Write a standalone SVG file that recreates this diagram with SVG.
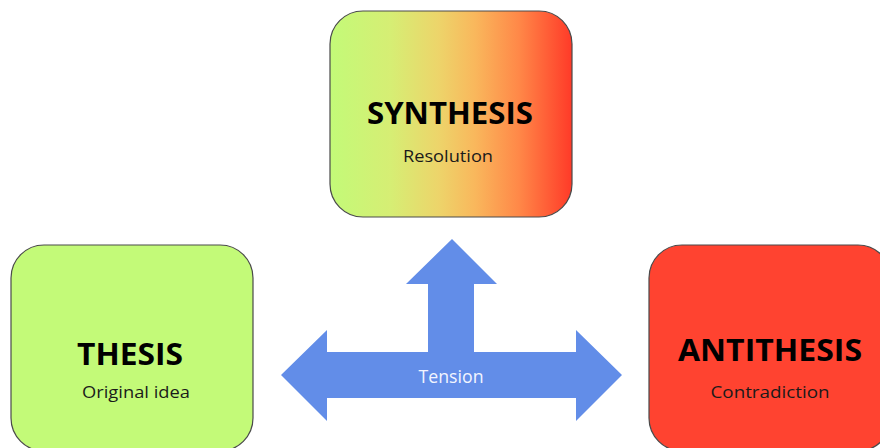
<svg xmlns="http://www.w3.org/2000/svg" width="880" height="448" viewBox="0 0 880 448">
<defs>
<linearGradient id="synGrad" x1="0" y1="0" x2="1" y2="0">
<stop offset="0" stop-color="#C3FA78"/>
<stop offset="0.25" stop-color="#D6EE74"/>
<stop offset="0.45" stop-color="#EDD46A"/>
<stop offset="0.6" stop-color="#F9B75C"/>
<stop offset="0.78" stop-color="#FF8848"/>
<stop offset="1" stop-color="#FF3A28"/>
</linearGradient>
</defs>
<style>
.box{stroke:#4a4a4a;stroke-width:1.2}
.title{font-family:"Open Sans","Noto Sans",sans-serif;font-weight:bold;font-size:31px;fill:#000;text-anchor:middle}
.sub{font-family:"Open Sans","Noto Sans",sans-serif;font-size:15.5px;fill:#1a1a1a;text-anchor:middle}
.lbl{font-family:"Open Sans","Noto Sans",sans-serif;font-size:18.5px;fill:#F2F5FF;text-anchor:middle}
</style>
<rect width="880" height="448" fill="#ffffff"/>
<g id="connectors">
<path d="M281,375 L327,330 L327,352 L428,352 L428,284 L406,284 L452,239 L497,284 L474,284 L474,352 L576,352 L576,330 L622,375 L576,421 L576,398 L327,398 L327,421 Z" fill="#628DE8"/>
<text class="lbl" x="451" y="383" textLength="65" lengthAdjust="spacingAndGlyphs">Tension</text>
</g>
<g id="synthesis">
<rect class="box" x="330" y="11" width="242" height="206" rx="33" ry="33" fill="url(#synGrad)"/>
<text class="title" x="450" y="124" textLength="166" lengthAdjust="spacingAndGlyphs">SYNTHESIS</text>
<text class="sub" x="448" y="162" textLength="90" lengthAdjust="spacingAndGlyphs">Resolution</text>
</g>
<g id="thesis">
<rect class="box" x="11" y="245" width="242" height="206" rx="33" ry="33" fill="#C3FA78"/>
<text class="title" x="130" y="365" textLength="106" lengthAdjust="spacingAndGlyphs">THESIS</text>
<text class="sub" x="136" y="398" textLength="108" lengthAdjust="spacingAndGlyphs">Original idea</text>
</g>
<g id="antithesis">
<rect class="box" x="649" y="245" width="242" height="206" rx="33" ry="33" fill="#FF4330"/>
<text class="title" x="770" y="361" textLength="184" lengthAdjust="spacingAndGlyphs">ANTITHESIS</text>
<text class="sub" x="770" y="398" textLength="119" lengthAdjust="spacingAndGlyphs">Contradiction</text>
</g>
</svg>
